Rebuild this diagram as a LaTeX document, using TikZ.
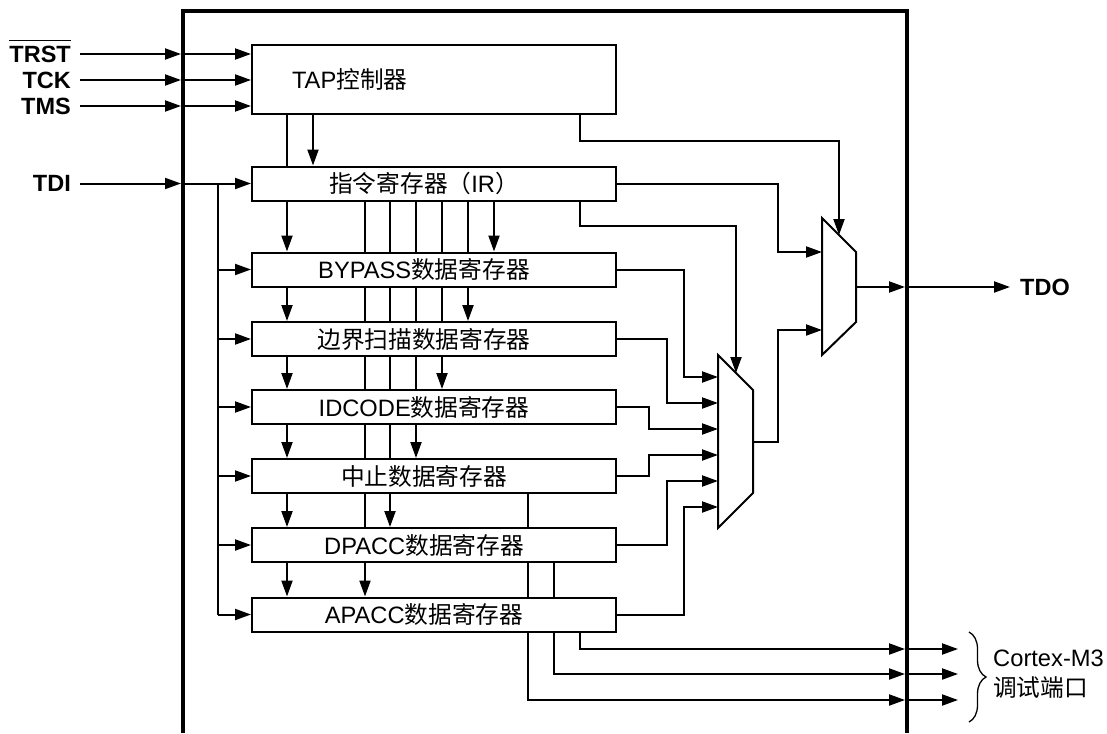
\documentclass[tikz,border=0pt]{standalone}
\usepackage{fontspec}
\setmainfont{Liberation Sans}
\newfontfamily\cjk{Noto Sans CJK SC}
\usetikzlibrary{arrows.meta,backgrounds,decorations.pathreplacing,calc}
\newcommand\zh[1]{{\cjk #1}}
\newcommand\rtext[1]{\makebox[364pt][l]{\makebox[344pt]{#1}}}
\begin{document}
\begin{tikzpicture}[x=1pt,y=-1pt,
  every node/.style={font=\fontsize{23.7}{28}\selectfont},
  wire/.style={line width=2pt},
  arr/.style={wire,-{Triangle[length=16pt,width=11pt]}},
  reg/.style={draw,line width=2pt,fill=white,minimum width=364pt,minimum height=34pt,inner sep=0pt},
  pin/.style={font=\fontsize{23.5}{28}\selectfont\bfseries,inner sep=0pt},
  frame/.style={line width=4pt},
]
\useasboundingbox (0,0) rectangle (1107,733);

% frame
\coordinate (fl) at (183,11);
\coordinate (fr) at (907,11);
\draw[frame] (183,733) -- (fl) -- (fr) -- (907,733);

% columns
\coordinate (xa) at (287,0);
\coordinate (xb) at (313,0);
\coordinate (xc) at (580,0);
\coordinate (xd) at (528,0);
\coordinate (xe) at (554,0);
\coordinate (tb) at (218,183.5);
\coordinate (b1) at (365,0);
\coordinate (b2) at (390,0);
\coordinate (b3) at (416,0);
\coordinate (b4) at (442,0);
\coordinate (b5) at (468,0);
\coordinate (b6) at (494,0);
\coordinate (k1) at (684,0);
\coordinate (k2) at (667,0);
\coordinate (k3) at (649,0);
\coordinate (k4) at (778,0);

% boxes
\node[reg,minimum height=69pt] (tap) at (434,79.5) {\makebox[364pt][l]{\hspace*{40pt}TAP\zh{控制器}}};
\node[reg] (ir) at (434,183.5) {\rtext{\zh{指令寄存器（}IR\zh{）}}};
\node[reg] (bp) at (434,269.5) {\rtext{BYPASS\zh{数据寄存器}}};
\node[reg] (bs) at (434,339) {\rtext{\zh{边界扫描数据寄存器}}};
\node[reg] (id) at (434,407) {\rtext{IDCODE\zh{数据寄存器}}};
\node[reg] (ab) at (434,476) {\rtext{\zh{中止数据寄存器}}};
\node[reg] (dp) at (434,545) {\rtext{DPACC\zh{数据寄存器}}};
\node[reg] (ap) at (434,614.5) {\rtext{APACC\zh{数据寄存器}}};

% muxes
\coordinate (m1a) at (718,355);
\coordinate (m1b) at (753,390);
\coordinate (m1c) at (753,493);
\coordinate (m1d) at (718,528);
\draw[wire,line join=miter] (m1a) -- (m1b) -- (m1c) -- (m1d) -- cycle;
\coordinate (m2a) at (822,218);
\coordinate (m2b) at (856,252);
\coordinate (m2c) at (856,322);
\coordinate (m2d) at (822,355);
\draw[wire,line join=miter] (m2a) -- (m2b) -- (m2c) -- (m2d) -- cycle;
\coordinate (i1) at (718,377);
\coordinate (i2) at (718,403);
\coordinate (i3) at (718,429);
\coordinate (i4) at (718,455);
\coordinate (i5) at (718,481);
\coordinate (i6) at (718,507);
\coordinate (m1top) at (736,373);
\coordinate (m1out) at (753,441.5);
\coordinate (m2in1) at (822,252);
\coordinate (m2in2) at (822,330);
\coordinate (m2top) at (839,235);
\coordinate (m2out) at (856,287);

% pins
\node[pin,anchor=east] (trst) at (71,54) {TRST};
\draw[line width=1.3pt] ([yshift=5pt]trst.north west) -- ([yshift=5pt]trst.north east);
\node[pin,anchor=east] (tck) at (71,80) {TCK};
\node[pin,anchor=east] (tms) at (71,106) {TMS};
\node[pin,anchor=east] (tdi) at (71,183.5) {TDI};
\node[pin,anchor=west] (tdo) at (1020,287) {TDO};

\foreach \p in {trst,tck,tms} {
  \draw[arr,shorten <=9pt,shorten >=2pt] (\p.east) -- (\p.east -| fl);
  \draw[arr] (\p.east -| fl) -- (\p.east -| tap.west);
}
\draw[arr,shorten <=9pt,shorten >=2pt] (tdi.east) -- (tdi.east -| fl);
\draw[arr] (tdi.east -| fl) -- (ir.west);
\draw[wire] (tb) -- (tb |- ap.west);
\foreach \r in {bp,bs,id,ab,dp,ap} \draw[arr] (tb |- \r.west) -- (\r.west);

% TAP -> IR
\draw[wire] (xa |- tap.south) -- (xa |- ir.north);
\draw[arr] (xb |- tap.south) -- (xb |- ir.north);

% chain arrows and bus
\foreach \u/\l/\n in {ir/bp/6,bp/bs/5,bs/id/4,id/ab/3,ab/dp/2,dp/ap/1} {
  \draw[arr] (xa |- \u.south) -- (xa |- \l.north);
  \draw[arr] (b\n |- \u.south) -- (b\n |- \l.north);
  \pgfmathtruncatemacro\m{\n-1}
  \ifnum\m>0
    \foreach \k in {1,...,\m} \draw[wire] (b\k |- \u.south) -- (b\k |- \l.north);
  \fi
}

% register outputs to mux1
\draw[arr] (bp.east) -| (k1 |- i1) -- (i1);
\draw[arr] (bs.east) -| (k2 |- i2) -- (i2);
\draw[arr] (id.east) -| (k3 |- i3) -- (i3);
\draw[arr] (ab.east) -| (k3 |- i4) -- (i4);
\draw[arr] (dp.east) -| (k2 |- i5) -- (i5);
\draw[arr] (ap.east) -| (k1 |- i6) -- (i6);

% IR and TAP to muxes
\draw[arr] (ir.east) -| (k4 |- m2in1) -- (m2in1);
\coordinate (j1) at (580,226);
\draw[arr] (xc |- ir.south) -- (j1) -| (m1top);
\coordinate (j2) at (580,141);
\draw[arr] (xc |- tap.south) -- (j2) -| (m2top);
\draw[arr] (m1out) -| (k4 |- m2in2) -- (m2in2);
\draw[arr,shorten >=2pt] (m2out) -- (m2out -| fr);
\draw[arr,shorten >=10pt] (m2out -| fr) -- (tdo.west);

% debug port outputs
\coordinate (o1) at (907,649);
\coordinate (o2) at (907,674);
\coordinate (o3) at (907,700);
\coordinate (p1) at (958,649);
\coordinate (p2) at (958,674);
\coordinate (p3) at (958,700);
\begin{pgfonlayer}{background}
\draw[arr,shorten >=2pt] (xc |- ap.south) |- (o1);
\draw[arr,shorten >=2pt] (xe |- dp.south) |- (o2);
\draw[arr,shorten >=2pt] (xd |- ab.south) |- (o3);
\end{pgfonlayer}
\draw[arr] (o1) -- (p1);
\draw[arr] (o2) -- (p2);
\draw[arr] (o3) -- (p3);

% brace and label
\coordinate (br1) at (969,632);
\coordinate (br2) at (969,722);
\draw[line width=1.3pt,decorate,decoration={brace,amplitude=17pt}] (br1) -- (br2);
\node[anchor=west,inner sep=0pt] (cx) at (993,658) {Cortex-M3};
\node[anchor=west,inner sep=0pt] (dbg) at (993,688) {\zh{调试端口}};
\end{tikzpicture}
\end{document}
